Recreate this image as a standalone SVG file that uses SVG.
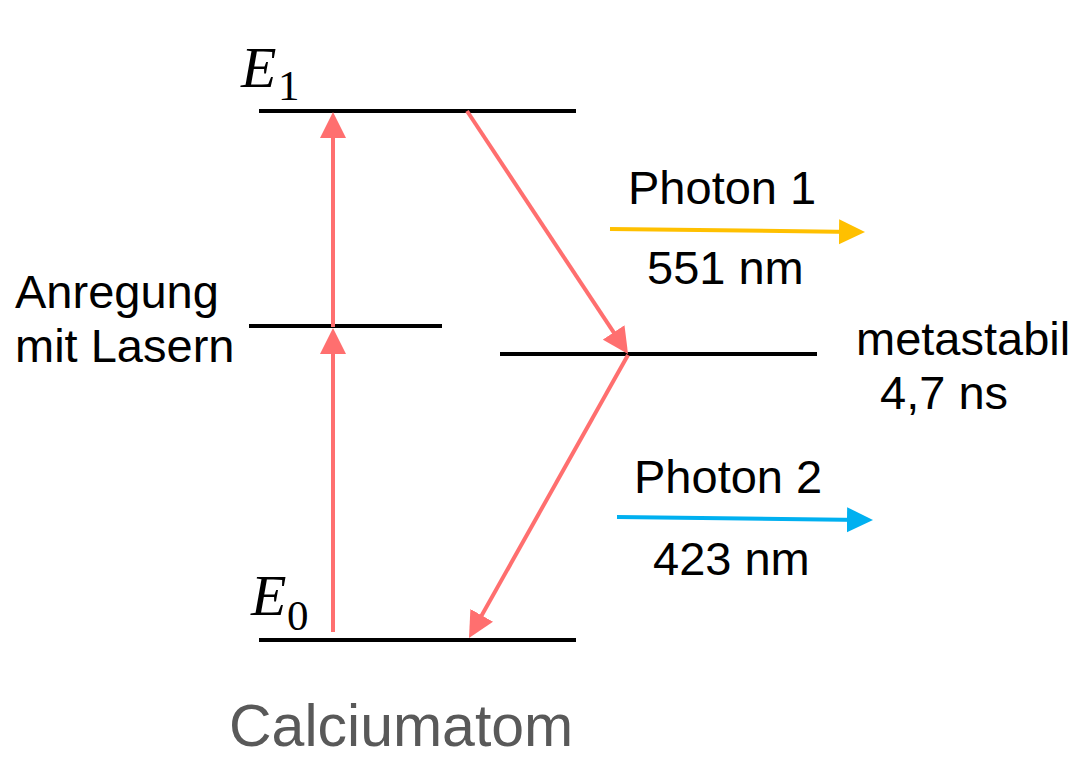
<svg xmlns="http://www.w3.org/2000/svg" width="1081" height="776" viewBox="0 0 1081 776">
<style>
.lvl{stroke:#000;stroke-width:4;fill:none}
.red{stroke:#FF6F6F;stroke-width:4;fill:none}
.t{font-family:"Liberation Sans",Arial,sans-serif;font-size:47px;fill:#000}
.e{font-family:"Liberation Serif","Times New Roman",serif;font-style:italic;font-size:58px;fill:#000}
.sub{font-family:"Liberation Serif","Times New Roman",serif;font-size:43px;fill:#000}
</style>
<defs>
<marker id="ar" markerUnits="userSpaceOnUse" markerWidth="26" markerHeight="26" refX="16" refY="13" orient="auto"><path d="M0,0 L26,13 L0,26 z" fill="#FF6F6F"/></marker>
<marker id="ay" markerUnits="userSpaceOnUse" markerWidth="26" markerHeight="26" refX="16" refY="12.5" orient="auto"><path d="M0,0 L26,12.5 L0,25 z" fill="#FFC000"/></marker>
<marker id="ab" markerUnits="userSpaceOnUse" markerWidth="26" markerHeight="26" refX="16" refY="12.5" orient="auto"><path d="M0,0 L26,12.5 L0,25 z" fill="#00B0F0"/></marker>
</defs>
<rect width="1081" height="776" fill="#fff"/>
<g id="levels">
<g id="E1"><line class="lvl" x1="259" y1="111" x2="576" y2="111"/><text class="e" x="241" y="87">E</text><text class="sub" x="278" y="100">1</text></g>
<g id="E0"><line class="lvl" x1="259" y1="640" x2="576" y2="640"/><text class="e" x="251" y="615">E</text><text class="sub" x="287" y="630">0</text></g>
<g id="mid"><line class="lvl" x1="249" y1="326" x2="442" y2="326"/></g>
<g id="meta"><line class="lvl" x1="500" y1="354" x2="817" y2="354"/></g>
</g>
<g id="connectors">
<line class="red" x1="333" y1="632" x2="333" y2="338" marker-end="url(#ar)"/>
<line class="red" x1="333" y1="327" x2="333" y2="122" marker-end="url(#ar)"/>
<line class="red" x1="467" y1="111" x2="622.5" y2="345.7" marker-end="url(#ar)"/>
<line class="red" x1="628" y1="355" x2="473.9" y2="629.3" marker-end="url(#ar)"/>
<line stroke="#FFC000" stroke-width="4" x1="610" y1="229" x2="855" y2="231.9" marker-end="url(#ay)"/>
<line stroke="#00B0F0" stroke-width="4" x1="617" y1="517" x2="863" y2="519.9" marker-end="url(#ab)"/>
</g>
<g id="labels">
<text class="t" x="628" y="204">Photon 1</text>
<text class="t" x="647" y="284">551 nm</text>
<text class="t" x="15" y="308">Anregung</text>
<text class="t" x="15" y="362">mit Lasern</text>
<text class="t" x="856" y="355">metastabil</text>
<text class="t" x="880" y="409">4,7 ns</text>
<text class="t" x="634" y="493">Photon 2</text>
<text class="t" x="653" y="575">423 nm</text>
<text x="229" y="746" style="font-family:'Liberation Sans',Arial,sans-serif;font-size:59px;fill:#595959">Calciumatom</text>
</g>
</svg>
